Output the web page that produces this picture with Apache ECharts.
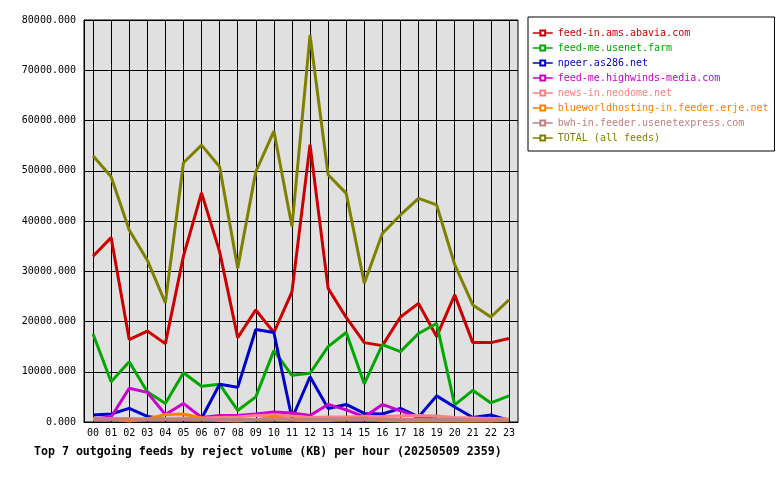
<!DOCTYPE html>
<html>
<head>
<meta charset="utf-8">
<script src="https://cdn.jsdelivr.net/npm/echarts@6/dist/echarts.min.js"></script>
<style>
	html, body { margin: 0; padding: 0; background: #fff; }
	#container { width: 780px; height: 480px; }
</style>
</head>
<body>
<div id="container"></div>
<script>
const hours = ['00', '01', '02', '03', '04', '05', '06', '07', '08', '09', '10', '11',
	'12', '13', '14', '15', '16', '17', '18', '19', '20', '21', '22', '23'];

const feedNames = [
	'feed-in.ams.abavia.com',
	'feed-me.usenet.farm',
	'npeer.as286.net',
	'feed-me.highwinds-media.com',
	'news-in.neodome.net',
	'blueworldhosting-in.feeder.erje.net',
	'bwh-in.feeder.usenetexpress.com',
	'TOTAL (all feeds)',
];
const feedColors = ['#cc0000', '#00a800', '#0000cc', '#cc00cc', '#ff8080', '#ff8000', '#c08080', '#808000'];

// KB per hour
const abavia = [33000, 36700, 16400, 18100, 15600, 33000, 45600, 33900, 16800, 22300, 17800, 25900,
	55200, 26600, 20800, 15800, 15200, 20900, 23600, 17000, 25300, 15800, 15800, 16600];
const usenetFarm = [17500, 8000, 12000, 6000, 3700, 9800, 7100, 7500, 2300, 5000, 14200, 9300,
	9700, 15000, 17800, 7600, 15400, 14000, 17600, 19600, 3400, 6300, 3800, 5200];
const as286 = [1400, 1600, 2700, 1100, 600, 500, 700, 7500, 6900, 18400, 17800, 700,
	9000, 2700, 3500, 1700, 1600, 2700, 1000, 5200, 3000, 900, 1400, 300];
const highwinds = [600, 1000, 6700, 5900, 1500, 3700, 900, 1300, 1300, 1600, 2000, 1800,
	1300, 3500, 2400, 1000, 3500, 2200, 900, 600, 400, 300, 300, 300];
const neodome = [600, 700, 700, 600, 700, 800, 800, 900, 1000, 1300, 1400, 1200,
	900, 1000, 1000, 1100, 1100, 1200, 1300, 1200, 900, 800, 700, 600];
const blueworld = [700, 600, 200, 600, 1500, 1600, 800, 300, 200, 400, 1100, 400,
	300, 300, 700, 800, 300, 200, 200, 200, 200, 200, 200, 300];
const usenetexpress = [500, 500, 600, 500, 500, 500, 500, 500, 500, 500, 500, 600,
	500, 600, 500, 500, 600, 500, 500, 500, 500, 400, 400, 400];
const total = [53000, 48800, 38200, 32200, 23700, 51600, 55100, 50800, 30600, 49800, 57900, 38900,
	77000, 49200, 45500, 27600, 37500, 41200, 44500, 43200, 31300, 23300, 20900, 24300];

const feedValues = [abavia, usenetFarm, as286, highwinds, neodome, blueworld, usenetexpress, total];

const mono = 'DejaVu Sans Mono';

const dom = document.getElementById('container');
const myChart = echarts.init(dom, null, { renderer: 'canvas' });

const option = {
	animation: false,
	backgroundColor: '#fff',
	title: {
		text: 'Top 7 outgoing feeds by reject volume (KB) per hour (20250509 2359)',
		left: 34,
		top: 446,
		padding: 0,
		textStyle: { fontFamily: mono, fontSize: 11.6, fontWeight: 'bold', color: '#000' },
	},
	legend: {
		orient: 'vertical',
		left: 528,
		top: 17,
		padding: [11, 6, 8, 4],
		itemWidth: 20,
		itemHeight: 6,
		itemGap: 5,
		backgroundColor: '#fff',
		borderColor: '#000',
		borderWidth: 1,
		lineStyle: { width: 1.5 },
		data: feedNames.map((name, i) => ({
			name: name,
			textStyle: { color: feedColors[i], fontFamily: mono, fontSize: 10 },
		})),
	},
	grid: {
		left: 84,
		top: 20,
		right: 262,
		bottom: 58,
		show: true,
		backgroundColor: '#e0e0e0',
		borderColor: '#000',
		borderWidth: 1,
	},
	xAxis: {
		type: 'category',
		data: hours,
		boundaryGap: true,
		axisLine: { lineStyle: { color: '#000', width: 1 } },
		axisTick: { alignWithLabel: true, length: 4, lineStyle: { color: '#000' } },
		axisLabel: { interval: 0, fontFamily: mono, fontSize: 10, color: '#000', margin: 6 },
		splitLine: { show: true, alignWithLabel: true, interval: 0, lineStyle: { color: '#000', width: 1 } },
	},
	yAxis: {
		type: 'value',
		min: 0,
		max: 80000,
		interval: 10000,
		axisLine: { show: true, lineStyle: { color: '#000' } },
		axisTick: { show: false },
		axisLabel: {
			fontFamily: mono,
			fontSize: 10,
			color: '#000',
			margin: 8,
			formatter: (v) => v.toFixed(3),
		},
		splitLine: { show: true, lineStyle: { color: '#000', width: 1 } },
	},
	series: feedNames.map((name, i) => ({
		name: name,
		type: 'line',
		data: feedValues[i],
		symbol: 'emptyRect',
		symbolSize: 4,
		showSymbol: false,
		color: feedColors[i],
		lineStyle: { width: 3, color: feedColors[i] },
	})),
};

if (option && typeof option === 'object') {
	myChart.setOption(option);
}
</script>
</body>
</html>
